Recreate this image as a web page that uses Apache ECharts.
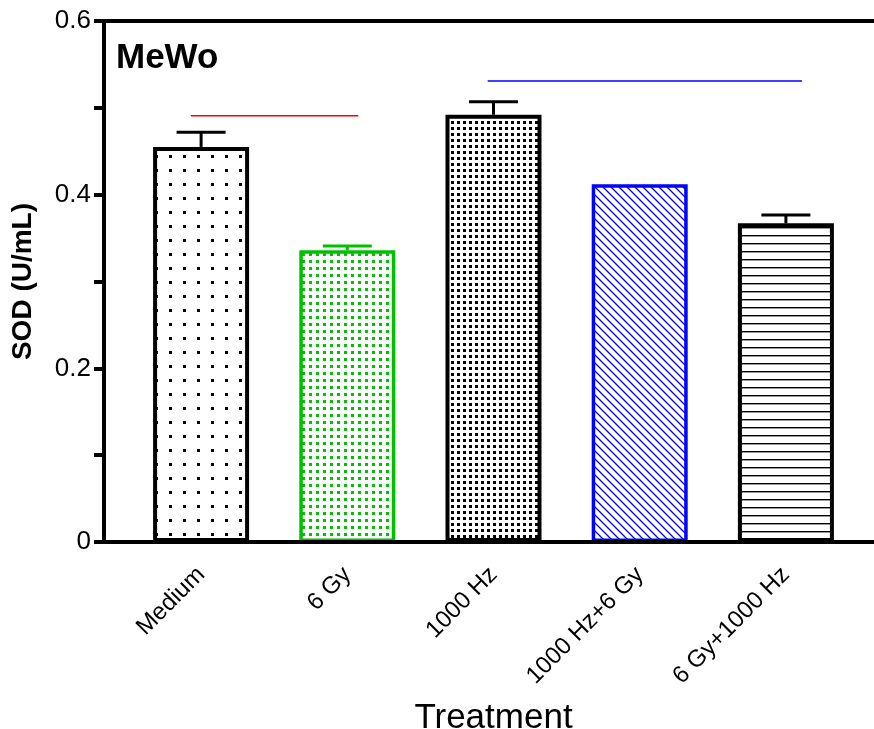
<!DOCTYPE html>
<html>
<head>
<meta charset="utf-8">
<title>MeWo SOD</title>
<script src="https://cdn.jsdelivr.net/npm/echarts@6/dist/echarts.min.js"></script>
<style>
  html, body { margin: 0; padding: 0; background: #fff; }
  #chart { width: 874px; height: 729px; }
</style>
</head>
<body>
<div id="chart"></div>
<script>
// Treatment groups and measured SOD activity (U/mL)
const categories = ['Medium', '6 Gy', '1000 Hz', '1000 Hz+6 Gy', '6 Gy+1000 Hz'];
const sodMean = [0.455, 0.336, 0.492, 0.412, 0.367];
const sodErr = [0.017, 0.005, 0.015, 0, 0.0096];
// Significance bars: [start position, end position, height] in category units
const sigBars = [
  [-0.07, 1.075, 0.491],
  [1.96, 4.11, 0.531]
];
const sigColors = ['#ff0000', '#0000ff'];
const yTicks = [0, 0.2, 0.4, 0.6];

const FONT = '"Liberation Sans", Arial, Helvetica, sans-serif';
const GREEN = '#00c000';
const BLUE = '#0000ff';

function makeTile(w, h, draw) {
  const c = document.createElement('canvas');
  c.width = w; c.height = h;
  const ctx = c.getContext('2d');
  ctx.fillStyle = '#ffffff';
  ctx.fillRect(0, 0, w, h);
  draw(ctx, w, h);
  return { image: c, repeat: 'repeat' };
}
function dots(size, dot, color) {
  return makeTile(size, size, (ctx) => {
    ctx.fillStyle = color;
    ctx.fillRect(1, 1, dot, dot);
  });
}
function hatch(size, color, lw) {
  return makeTile(size, size, (ctx, w, h) => {
    ctx.strokeStyle = color;
    ctx.lineWidth = lw;
    ctx.beginPath();
    ctx.moveTo(0, 0); ctx.lineTo(w, h);
    ctx.moveTo(-w, 0); ctx.lineTo(w, 2 * h);
    ctx.moveTo(0, -h); ctx.lineTo(2 * w, h);
    ctx.stroke();
  });
}
function hlines(h, color, lw) {
  return makeTile(8, h, (ctx, w) => {
    ctx.fillStyle = color;
    ctx.fillRect(0, 3, w, lw);
  });
}

const barStyles = [
  { color: dots(14, 3, '#000'), borderColor: '#000', borderWidth: 4 },
  { color: dots(7, 3, GREEN), borderColor: GREEN, borderWidth: 3.5 },
  { color: dots(6, 3, '#000'), borderColor: '#000', borderWidth: 4 },
  { color: hatch(8, BLUE, 1.3), borderColor: BLUE, borderWidth: 3.5 },
  { color: hlines(8, '#000', 1.4), borderColor: '#000', borderWidth: 4 }
];
const errColors = ['#000', GREEN, '#000', BLUE, '#000'];

const chart = echarts.init(document.getElementById('chart'), null, { renderer: 'canvas' });

chart.setOption({
  animation: false,
  backgroundColor: '#ffffff',
  textStyle: { fontFamily: FONT },
  title: {
    text: 'MeWo',
    left: 116, top: 41, padding: 0,
    textStyle: { fontFamily: FONT, fontSize: 35, fontWeight: 'bold', color: '#000' }
  },
  grid: [
    { left: 104, right: 0, top: 21, bottom: 187, outerBoundsMode: 'none', containLabel: false },
    { left: 128, right: 15, top: 21, bottom: 187, outerBoundsMode: 'none', containLabel: false }
  ],
  xAxis: [
    { gridIndex: 0, type: 'category', data: [''], position: 'bottom', z: 10,
      axisLine: { lineStyle: { color: '#000', width: 4 } },
      axisTick: { show: false }, axisLabel: { show: false }, splitLine: { show: false } },
    { gridIndex: 0, type: 'category', data: [''], position: 'top', z: 10,
      axisLine: { lineStyle: { color: '#000', width: 4 } },
      axisTick: { show: false }, axisLabel: { show: false }, splitLine: { show: false } },
    { gridIndex: 1, type: 'category', data: categories, position: 'bottom',
      axisLine: { show: false }, axisTick: { show: false },
      axisLabel: { rotate: 45, margin: 29, fontSize: 24, color: '#000', fontFamily: FONT, interval: 0 },
      name: 'Treatment', nameLocation: 'middle', nameGap: 159,
      nameTextStyle: { fontSize: 35, color: '#000', fontFamily: FONT } }
  ],
  yAxis: [
    { gridIndex: 0, type: 'value', min: 0, max: 0.6, interval: 0.1, z: 10,
      axisLine: { show: true, lineStyle: { color: '#000', width: 4 } },
      axisTick: { show: true, length: 10, lineStyle: { color: '#000', width: 4 } },
      axisLabel: {
        margin: 13, fontSize: 26, color: '#000', fontFamily: FONT,
        formatter: (v) => {
          const hit = yTicks.find((t) => Math.abs(t - v) < 1e-9);
          return hit === undefined ? '' : (hit === 0 ? '0' : hit.toFixed(1));
        }
      },
      splitLine: { show: false },
      name: 'SOD (U/mL)', nameLocation: 'middle', nameGap: 67, nameRotate: 90,
      nameTextStyle: { fontSize: 28, fontWeight: 'bold', color: '#000', fontFamily: FONT } },
    { gridIndex: 1, type: 'value', min: 0, max: 0.6, show: false }
  ],
  series: [
    {
      type: 'custom',
      name: 'error',
      xAxisIndex: 2, yAxisIndex: 1,
      z: 1,
      data: categories.map((c, i) => [i, sodMean[i], sodErr[i]]),
      renderItem: (params, api) => {
        const i = api.value(0);
        const m = api.value(1);
        const e = api.value(2);
        if (!e) return null;
        const base = api.coord([i, m]);
        const top = api.coord([i, m + e]);
        const half = 24.5;
        const style = { stroke: errColors[i], lineWidth: 3, fill: null };
        return {
          type: 'group',
          children: [
            { type: 'line', shape: { x1: base[0], y1: base[1], x2: top[0], y2: top[1] }, style },
            { type: 'line', shape: { x1: top[0] - half, y1: top[1], x2: top[0] + half, y2: top[1] }, style }
          ]
        };
      }
    },
    {
      type: 'bar',
      name: 'SOD',
      xAxisIndex: 2, yAxisIndex: 1,
      z: 2,
      barWidth: 96,
      data: sodMean.map((v, i) => ({ value: v, itemStyle: barStyles[i] }))
    },
    {
      type: 'custom',
      name: 'significance',
      xAxisIndex: 2, yAxisIndex: 1,
      z: 3,
      data: sigBars,
      renderItem: (params, api) => {
        const band = api.size([1, 0])[0];
        const pos = (p, y) => {
          const k = Math.round(p);
          return api.coord([k, y])[0] + (p - k) * band;
        };
        const y = api.value(2);
        const yy = api.coord([0, y])[1];
        return {
          type: 'line',
          shape: { x1: pos(api.value(0), y), y1: yy, x2: pos(api.value(1), y), y2: yy },
          style: { stroke: sigColors[params.dataIndex], lineWidth: 1.5 }
        };
      }
    }
  ]
});
</script>
</body>
</html>
